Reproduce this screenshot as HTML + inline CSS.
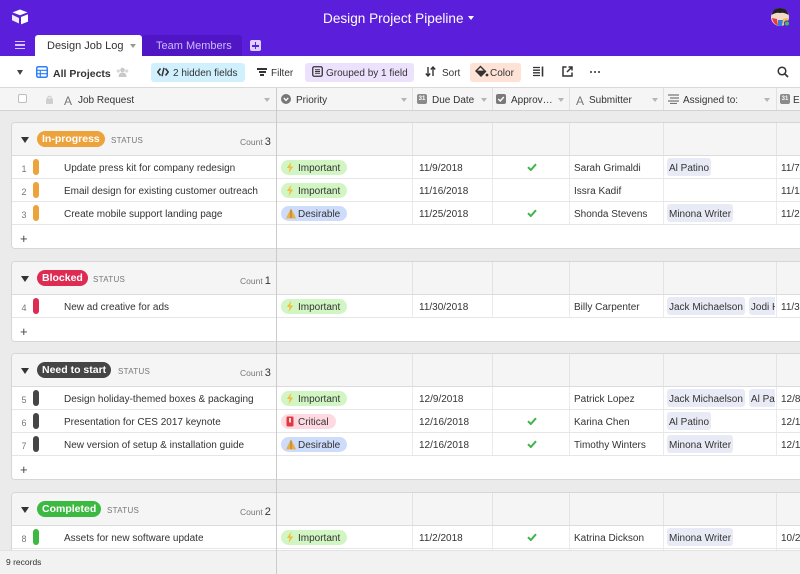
<!DOCTYPE html>
<html><head><meta charset="utf-8">
<style>
*{box-sizing:border-box;margin:0;padding:0}
html,body{width:800px;height:574px;overflow:hidden}
body{position:relative;background:#ebebeb;font-family:"Liberation Sans",sans-serif;font-size:10px;color:#333}
.a{position:absolute}
#top{position:absolute;left:0;top:0;width:800px;height:56px;background:#5b1edb}
#tb{position:absolute;left:0;top:56px;width:800px;height:32px;background:#fff;border-bottom:1px solid #d9d9d9}
.pill{position:absolute;top:7px;height:19px;border-radius:3px}
.tt{position:absolute;top:2px;line-height:32px;font-size:10px;color:#333;white-space:nowrap}
#hr{position:absolute;left:0;top:88px;width:800px;height:23px;background:#f5f5f5;border-bottom:1px solid #d3d3d3}
.hl{position:absolute;top:0;width:1px;height:22px;background:#e0e0e0}
.ht{position:absolute;top:2px;line-height:22px;font-size:10px;color:#333;white-space:nowrap}
.car{position:absolute;width:0;height:0;border-left:3px solid transparent;border-right:3px solid transparent;border-top:4px solid #b5b5b5}
.card{position:absolute;left:11px;width:820px;background:#fff;border:1px solid #d6d6d6;border-radius:4px;overflow:hidden}
.gh{position:relative;height:33px;border-bottom:1px solid #dcdcdc;background:
linear-gradient(#e3e3e3,#e3e3e3) 400px 0/1px 100% no-repeat,
linear-gradient(#e3e3e3,#e3e3e3) 480px 0/1px 100% no-repeat,
linear-gradient(#e3e3e3,#e3e3e3) 557px 0/1px 100% no-repeat,
linear-gradient(#e3e3e3,#e3e3e3) 651px 0/1px 100% no-repeat,
linear-gradient(#e3e3e3,#e3e3e3) 764px 0/1px 100% no-repeat,#f5f5f5}
.row{position:relative;height:23px;border-bottom:1px solid #e6e6e6;background:
linear-gradient(#ebebeb,#ebebeb) 400px 0/1px 100% no-repeat,
linear-gradient(#ebebeb,#ebebeb) 480px 0/1px 100% no-repeat,
linear-gradient(#ebebeb,#ebebeb) 557px 0/1px 100% no-repeat,
linear-gradient(#ebebeb,#ebebeb) 651px 0/1px 100% no-repeat,
linear-gradient(#ebebeb,#ebebeb) 764px 0/1px 100% no-repeat,#fff}
.plus{position:relative;height:23px;background:#fff}
.plus span{position:absolute;left:8px;top:2px;line-height:23px;font-size:13px;color:#444}
.row span,.row svg,.row i{position:absolute}
.n{left:4px;width:16px;text-align:center;top:2px;line-height:22px;font-size:9px;color:#777}
.bar{left:21px;top:3px;width:6px;height:16px;border-radius:3px;display:block}
.t{left:52px;top:2px;line-height:22px;white-space:nowrap}
.pp{left:269px;top:4px;height:15px;line-height:17px;border-radius:8px;padding:0 7px 0 17px;white-space:nowrap;color:#333}
.pp svg{left:5px;top:2px}
.g{background:#d1f5c3}.b{background:#cedcfc}.k{background:#ffd9e1}
.dd{left:407px;top:2px;line-height:22px}
.ck{left:515px;top:7px}
.sb{left:562px;top:2px;line-height:22px;white-space:nowrap}
.as{left:655px;top:2px;width:108px;height:18px;overflow:hidden;white-space:nowrap}
.as b{display:inline-block;vertical-align:top;font-weight:normal;background:#e8ebf5;height:18px;line-height:21px;padding:0 2px;border-radius:3px;margin-right:4px;color:#333}
.e{left:769px;top:2px;line-height:22px;white-space:nowrap}
.tri{position:absolute;left:9px;top:14px;width:0;height:0;border-left:4px solid transparent;border-right:4px solid transparent;border-top:6px solid #333}
.st{position:absolute;left:25px;top:8px;height:16px;line-height:17.5px;padding:0 5px;border-radius:8px;color:#fff;font-weight:bold;font-size:10.5px;white-space:nowrap}
.sl{position:absolute;top:10px;line-height:16px;font-size:8px;letter-spacing:.3px;color:#777}
.cn{position:absolute;left:228px;top:10.5px;line-height:16px;font-size:8.5px;color:#777;white-space:nowrap}
.cn b{font-weight:normal;font-size:11px;color:#333;margin-left:2px}
</style></head><body>

<div id="top">
  <svg class="a" style="left:11px;top:9px" width="18" height="16" viewBox="0 0 18 16">
    <path d="M9 0.5 L16.5 3.4 L9 6.3 L1.5 3.4Z" fill="#fff"/>
    <path d="M10 8 L17 5.3 V12.6 L10 15.4Z" fill="#fff"/>
    <path d="M1 5.6 L8 9 V14.5 L1 11.2Z" fill="#fff" opacity=".9"/>
  </svg>
  <div class="a" style="left:323px;top:10px;line-height:17px;font-size:13.6px;color:#fff;white-space:nowrap">Design Project Pipeline</div>
  <div class="a" style="left:468px;top:16px;width:0;height:0;border-left:3px solid transparent;border-right:3px solid transparent;border-top:4px solid #fff"></div>
  <svg class="a" style="left:770px;top:7px" width="21" height="21" viewBox="0 0 21 21">
    <circle cx="10" cy="10" r="9" fill="#f4d9c8"/>
    <path d="M1.5 8 Q3 1 10 1 Q17 1 18.5 8 Q14 5 10 6 Q6 5 1.5 8Z" fill="#222"/>
    <path d="M2 11 Q3 17 8 18.5 L7 12Z" fill="#e23d3d"/>
    <path d="M8 13 L13 13 L12 19 Q10 19.3 8 18.8Z" fill="#3b7be0"/>
    <path d="M13 12 L18 11 Q17.5 16 13.5 18.5Z" fill="#f2c23a"/>
    <circle cx="17" cy="16.5" r="2.6" fill="#3fbf4f" stroke="#5b1edb" stroke-width="1"/>
  </svg>
  <div class="a" style="left:15px;top:41px;width:10px;height:8px;border-top:1.5px solid #d6c8ff;border-bottom:1.5px solid #d6c8ff"></div>
  <div class="a" style="left:15px;top:44.3px;width:10px;height:1.5px;background:#d6c8ff"></div>
  <div class="a" style="left:35px;top:35px;width:107px;height:21px;background:#fff;border-radius:3px 3px 0 0"></div>
  <div class="a" style="left:47px;top:36px;line-height:21px;font-size:11px;color:#333;white-space:nowrap">Design Job Log</div>
  <div class="a" style="left:130px;top:44px;width:0;height:0;border-left:3px solid transparent;border-right:3px solid transparent;border-top:4px solid #999"></div>
  <div class="a" style="left:142px;top:35px;width:100px;height:21px;background:#5016c6;border-radius:3px 3px 0 0"></div>
  <div class="a" style="left:156px;top:36px;line-height:21px;font-size:11px;color:#cdbdf8;white-space:nowrap">Team Members</div>
  <div class="a" style="left:250px;top:40px;width:11px;height:11px;background:#ddd2ff;border-radius:2px"></div>
  <div class="a" style="left:252px;top:45px;width:7px;height:1.6px;background:#5b1edb"></div>
  <div class="a" style="left:254.7px;top:42.3px;width:1.6px;height:7px;background:#5b1edb"></div>
</div>

<div id="tb">
  <div class="a" style="left:17px;top:14px;width:0;height:0;border-left:3.5px solid transparent;border-right:3.5px solid transparent;border-top:5px solid #444"></div>
  <svg class="a" style="left:36px;top:10px" width="12" height="12" viewBox="0 0 12 12">
    <rect x="0.75" y="0.75" width="10.5" height="10.5" rx="1.5" fill="none" stroke="#2d7ff9" stroke-width="1.5"/>
    <path d="M1 4.3 H11 M1 7.7 H11 M4.3 4.3 V11" stroke="#2d7ff9" stroke-width="1.2"/>
  </svg>
  <div class="tt" style="left:53px;font-weight:bold;font-size:10.5px">All Projects</div>
  <svg class="a" style="left:116px;top:11px" width="13" height="10" viewBox="0 0 13 10">
    <circle cx="6.5" cy="3" r="2.3" fill="#c9c9c9"/><path d="M2.5 10 Q2.5 5.5 6.5 5.5 Q10.5 5.5 10.5 10Z" fill="#c9c9c9"/>
    <circle cx="2.3" cy="4" r="1.6" fill="#d8d8d8"/><circle cx="10.7" cy="4" r="1.6" fill="#d8d8d8"/>
  </svg>
  <div class="pill" style="left:151px;width:94px;background:#d0f0fd"></div>
  <svg class="a" style="left:157px;top:11px" width="12" height="10" viewBox="0 0 12 10">
    <path d="M3.5 1.5 L0.8 5 L3.5 8.5 M8.5 1.5 L11.2 5 L8.5 8.5 M7 0.8 L5 9.2" stroke="#333" stroke-width="1.5" fill="none"/>
  </svg>
  <div class="tt" style="left:173px">2 hidden fields</div>
  <div class="a" style="left:257px;top:12px;width:10px;height:1.6px;background:#333"></div>
  <div class="a" style="left:258.5px;top:15.2px;width:7px;height:1.6px;background:#333"></div>
  <div class="a" style="left:260px;top:18.4px;width:4px;height:1.6px;background:#333"></div>
  <div class="tt" style="left:271px">Filter</div>
  <div class="pill" style="left:305px;width:109px;background:#ede2fe"></div>
  <svg class="a" style="left:312px;top:10px" width="11" height="11" viewBox="0 0 11 11">
    <rect x="0.75" y="0.75" width="9.5" height="9.5" rx="1.5" fill="none" stroke="#333" stroke-width="1.3"/>
    <path d="M3 3.7 H8 M3 5.5 H8 M3 7.3 H8" stroke="#333" stroke-width="1"/>
  </svg>
  <div class="tt" style="left:326px">Grouped by 1 field</div>
  <svg class="a" style="left:425px;top:10px" width="11" height="11" viewBox="0 0 11 11">
    <path d="M3 1 V10 M0.8 7.5 L3 10 L5.2 7.5 M8 10 V1 M5.8 3.5 L8 1 L10.2 3.5" stroke="#333" stroke-width="1.4" fill="none"/>
  </svg>
  <div class="tt" style="left:442px">Sort</div>
  <div class="pill" style="left:470px;width:51px;background:#fde2d5"></div>
  <svg class="a" style="left:475px;top:9px" width="14" height="13" viewBox="0 0 14 13">
    <path d="M5.5 1.5 L10.5 6.5 L6 11 L1 6Z" fill="none" stroke="#333" stroke-width="1.4"/>
    <path d="M1.5 6.3 H10" stroke="#333" stroke-width="1.4"/><path d="M2 6.5 L6 10.5 L10 6.5Z" fill="#333"/>
    <circle cx="12" cy="10" r="1.4" fill="#333"/>
  </svg>
  <div class="tt" style="left:490px">Color</div>
  <svg class="a" style="left:533px;top:10px" width="11" height="11" viewBox="0 0 11 11">
    <path d="M0 1.5 H7 M0 4.2 H7 M0 6.8 H7 M0 9.5 H7" stroke="#333" stroke-width="1.3"/>
    <path d="M9.5 0.5 V10.5" stroke="#333" stroke-width="1.6"/>
  </svg>
  <svg class="a" style="left:562px;top:10px" width="11" height="11" viewBox="0 0 11 11">
    <path d="M4.5 1 H1 V10 H10 V6.5" fill="none" stroke="#333" stroke-width="1.5"/>
    <path d="M5 6 L10 1 M6.5 1 H10 V4.5" fill="none" stroke="#333" stroke-width="1.5"/>
  </svg>
  <div class="a" style="left:590px;top:15px;width:2px;height:2px;background:#333;border-radius:1px;box-shadow:4px 0 #333,8px 0 #333"></div>
  <svg class="a" style="left:777px;top:10px" width="12" height="12" viewBox="0 0 12 12">
    <circle cx="5" cy="5" r="3.8" fill="none" stroke="#333" stroke-width="1.5"/><path d="M7.8 7.8 L11 11" stroke="#333" stroke-width="1.7"/>
  </svg>
</div>

<div id="hr">
  <div class="a" style="left:18px;top:6px;width:9px;height:9px;border:1px solid #bdbdbd;border-radius:2px;background:#fff"></div>
  <svg class="a" style="left:46px;top:7px" width="7" height="9" viewBox="0 0 7 9"><rect x="0" y="3.5" width="7" height="5.5" rx="1" fill="#cfcfcf"/><path d="M1.7 4 V2.5 Q3.5 0 5.3 2.5 V4" fill="none" stroke="#cfcfcf" stroke-width="1.2"/></svg>
  <div class="ht" style="left:64px;font-size:12px;color:#777">A</div>
  <div class="ht" style="left:78px">Job Request</div>
  <div class="car" style="left:264px;top:10px"></div>
  <div class="hl" style="left:412px"></div><div class="hl" style="left:492px"></div><div class="hl" style="left:569px"></div><div class="hl" style="left:663px"></div><div class="hl" style="left:776px"></div>
  <svg class="a" style="left:281px;top:6px" width="10" height="10" viewBox="0 0 10 10"><circle cx="5" cy="5" r="5" fill="#777"/><path d="M2.8 4 L5 6.3 L7.2 4" stroke="#fff" stroke-width="1.4" fill="none"/></svg>
  <div class="ht" style="left:296px">Priority</div>
  <div class="car" style="left:401px;top:10px"></div>
  <div class="a" style="left:417px;top:6px;width:10px;height:10px;background:#8a8a8a;border-radius:2px;color:#fff;font-size:6px;line-height:11px;text-align:center;font-weight:bold">31</div>
  <div class="ht" style="left:432px">Due Date</div>
  <div class="car" style="left:481px;top:10px"></div>
  <svg class="a" style="left:496px;top:6px" width="10" height="10" viewBox="0 0 10 10"><rect width="10" height="10" rx="2" fill="#7a7a7a"/><path d="M2.3 5 L4.3 7 L7.8 3" stroke="#fff" stroke-width="1.4" fill="none"/></svg>
  <div class="ht" style="left:511px">Approv…</div>
  <div class="car" style="left:558px;top:10px"></div>
  <div class="ht" style="left:576px;font-size:12px;color:#777">A</div>
  <div class="ht" style="left:589px">Submitter</div>
  <div class="car" style="left:652px;top:10px"></div>
  <svg class="a" style="left:668px;top:6px" width="11" height="10" viewBox="0 0 11 10"><path d="M0 1 H11 M2 4 H11 M0 7 H11 M2 9.5 H9" stroke="#777" stroke-width="1.2"/></svg>
  <div class="ht" style="left:683px">Assigned to:</div>
  <div class="car" style="left:764px;top:10px"></div>
  <div class="a" style="left:780px;top:6px;width:10px;height:10px;background:#8a8a8a;border-radius:2px;color:#fff;font-size:6px;line-height:11px;text-align:center;font-weight:bold">31</div>
  <div class="ht" style="left:793px">E</div>
</div>

<!-- Group 1 -->
<div class="card" style="top:122px;height:127px">
  <div class="gh"><i class="tri"></i><span class="st" style="background:#eca33b">In-progress</span><span class="sl" style="left:99px">STATUS</span><span class="cn">Count<b>3</b></span></div>
  <div class="row"><span class="n">1</span><i class="bar" style="background:#eca33b"></i><span class="t">Update press kit for company redesign</span>
    <span class="pp g"><svg width="8" height="11" viewBox="0 0 8 11"><path d="M5.2 0 L0.8 6 H3.6 L2.6 11 L7.2 4.5 H4.3Z" fill="#f3bd3c"/></svg>Important</span>
    <span class="dd">11/9/2018</span><svg class="ck" width="10" height="8" viewBox="0 0 10 8"><path d="M1 4.2 L3.8 7 L9 1.2" stroke="#3db54a" stroke-width="2" fill="none"/></svg>
    <span class="sb">Sarah Grimaldi</span><span class="as"><b>Al Patino</b></span><span class="e">11/7/2018</span></div>
  <div class="row"><span class="n">2</span><i class="bar" style="background:#eca33b"></i><span class="t">Email design for existing customer outreach</span>
    <span class="pp g"><svg width="8" height="11" viewBox="0 0 8 11"><path d="M5.2 0 L0.8 6 H3.6 L2.6 11 L7.2 4.5 H4.3Z" fill="#f3bd3c"/></svg>Important</span>
    <span class="dd">11/16/2018</span>
    <span class="sb">Issra Kadif</span><span class="e">11/11/2018</span></div>
  <div class="row"><span class="n">3</span><i class="bar" style="background:#eca33b"></i><span class="t">Create mobile support landing page</span>
    <span class="pp b"><svg width="10" height="11" viewBox="0 0 10 11"><path d="M5 0.5 L1.5 7 L0 10.5 H10 L8.5 7Z" fill="#e9b04a"/><path d="M5 1.5 V10" stroke="#9a6a2a" stroke-width=".8"/></svg>Desirable</span>
    <span class="dd">11/25/2018</span><svg class="ck" width="10" height="8" viewBox="0 0 10 8"><path d="M1 4.2 L3.8 7 L9 1.2" stroke="#3db54a" stroke-width="2" fill="none"/></svg>
    <span class="sb">Shonda Stevens</span><span class="as"><b>Minona Writer</b></span><span class="e">11/21/2018</span></div>
  <div class="plus"><span>+</span></div>
</div>

<!-- Group 2 -->
<div class="card" style="top:261px;height:81px">
  <div class="gh"><i class="tri"></i><span class="st" style="background:#dd2b52">Blocked</span><span class="sl" style="left:81px">STATUS</span><span class="cn">Count<b>1</b></span></div>
  <div class="row"><span class="n">4</span><i class="bar" style="background:#dd2b52"></i><span class="t">New ad creative for ads</span>
    <span class="pp g"><svg width="8" height="11" viewBox="0 0 8 11"><path d="M5.2 0 L0.8 6 H3.6 L2.6 11 L7.2 4.5 H4.3Z" fill="#f3bd3c"/></svg>Important</span>
    <span class="dd">11/30/2018</span>
    <span class="sb">Billy Carpenter</span><span class="as"><b>Jack Michaelson</b><b>Jodi Hill</b></span><span class="e">11/30/2018</span></div>
  <div class="plus"><span>+</span></div>
</div>

<!-- Group 3 -->
<div class="card" style="top:353px;height:127px">
  <div class="gh"><i class="tri"></i><span class="st" style="background:#454545">Need to start</span><span class="sl" style="left:106px">STATUS</span><span class="cn">Count<b>3</b></span></div>
  <div class="row"><span class="n">5</span><i class="bar" style="background:#454545"></i><span class="t">Design holiday-themed boxes &amp; packaging</span>
    <span class="pp g"><svg width="8" height="11" viewBox="0 0 8 11"><path d="M5.2 0 L0.8 6 H3.6 L2.6 11 L7.2 4.5 H4.3Z" fill="#f3bd3c"/></svg>Important</span>
    <span class="dd">12/9/2018</span>
    <span class="sb">Patrick Lopez</span><span class="as"><b>Jack Michaelson</b><b>Al Patino</b></span><span class="e">12/8/2018</span></div>
  <div class="row"><span class="n">6</span><i class="bar" style="background:#454545"></i><span class="t">Presentation for CES 2017 keynote</span>
    <span class="pp k"><svg width="8" height="11" viewBox="0 0 8 11"><rect x="0.5" y="0.5" width="7" height="10" rx="1.2" fill="#e0393e"/><rect x="3.2" y="2" width="1.6" height="4.5" fill="#fff"/></svg>Critical</span>
    <span class="dd">12/16/2018</span><svg class="ck" width="10" height="8" viewBox="0 0 10 8"><path d="M1 4.2 L3.8 7 L9 1.2" stroke="#3db54a" stroke-width="2" fill="none"/></svg>
    <span class="sb">Karina Chen</span><span class="as"><b>Al Patino</b></span><span class="e">12/13/2018</span></div>
  <div class="row"><span class="n">7</span><i class="bar" style="background:#454545"></i><span class="t">New version of setup &amp; installation guide</span>
    <span class="pp b"><svg width="10" height="11" viewBox="0 0 10 11"><path d="M5 0.5 L1.5 7 L0 10.5 H10 L8.5 7Z" fill="#e9b04a"/><path d="M5 1.5 V10" stroke="#9a6a2a" stroke-width=".8"/></svg>Desirable</span>
    <span class="dd">12/16/2018</span><svg class="ck" width="10" height="8" viewBox="0 0 10 8"><path d="M1 4.2 L3.8 7 L9 1.2" stroke="#3db54a" stroke-width="2" fill="none"/></svg>
    <span class="sb">Timothy Winters</span><span class="as"><b>Minona Writer</b></span><span class="e">12/13/2018</span></div>
  <div class="plus"><span>+</span></div>
</div>

<!-- Group 4 -->
<div class="card" style="top:492px;height:104px">
  <div class="gh"><i class="tri"></i><span class="st" style="background:#3cb941">Completed</span><span class="sl" style="left:95px">STATUS</span><span class="cn">Count<b>2</b></span></div>
  <div class="row"><span class="n">8</span><i class="bar" style="background:#3cb941"></i><span class="t">Assets for new software update</span>
    <span class="pp g"><svg width="8" height="11" viewBox="0 0 8 11"><path d="M5.2 0 L0.8 6 H3.6 L2.6 11 L7.2 4.5 H4.3Z" fill="#f3bd3c"/></svg>Important</span>
    <span class="dd">11/2/2018</span><svg class="ck" width="10" height="8" viewBox="0 0 10 8"><path d="M1 4.2 L3.8 7 L9 1.2" stroke="#3db54a" stroke-width="2" fill="none"/></svg>
    <span class="sb">Katrina Dickson</span><span class="as"><b>Minona Writer</b></span><span class="e">10/26/2018</span></div>
  <div class="row"></div>
</div>

<div class="a" style="left:0;top:550px;width:800px;height:24px;background:#f2f2f2;border-top:1px solid #e2e2e2"></div>
<div class="a" style="left:6px;top:552px;line-height:21px;font-size:8.5px;color:#333">9 records</div>
<div class="a" style="left:276px;top:88px;width:1px;height:486px;background:#cbcbcb;z-index:5"></div>
</body></html>
